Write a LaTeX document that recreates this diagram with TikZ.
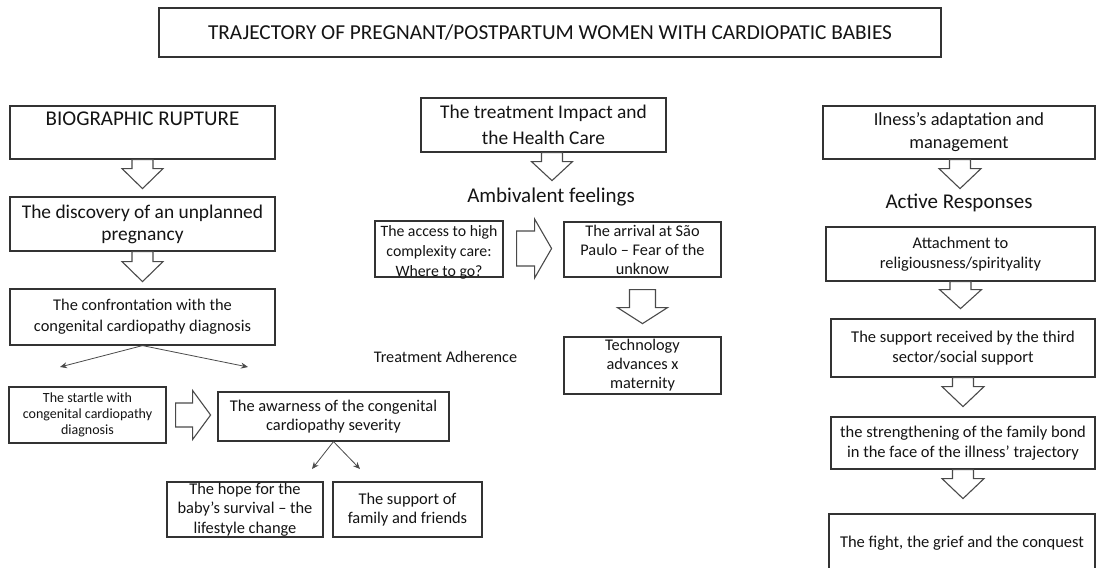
\documentclass[tikz,border=0pt]{standalone}
\usepackage{fontspec}
\setmainfont{Carlito}
\usetikzlibrary{arrows.meta,calc}
\definecolor{ink}{HTML}{141414}
\definecolor{edge}{HTML}{333333}
\definecolor{agray}{HTML}{4A4A4A}
\newcommand{\fs}[2]{\fontsize{#1}{#2}\selectfont}
% block arrow pointing down: start point, stem length, head length, stem half width, head half width
\newcommand{\downblock}[5]{\draw[barrow] (#1) ++(-#4,0) -- ++(0,#2) -- ++(#4-#5,0) -- ++(#5,#3) -- ++(#5,-#3) -- ++(#4-#5,0) -- ++(0,-#2) -- cycle;}
% block arrow pointing right
\newcommand{\rightblock}[5]{\draw[barrow] (#1) ++(0,-#4) -- ++(#2,0) -- ++(0,#4-#5) -- ++(#3,#5) -- ++(-#3,#5) -- ++(0,#4-#5) -- ++(-#2,0) -- cycle;}
\tikzset{
  box/.style={draw=edge, line width=1.2pt, fill=white, inner sep=0pt, align=center, text=ink},
  lbl/.style={inner sep=0pt, align=center, text=ink},
  barrow/.style={draw=agray, line width=1.1pt, fill=white, line join=miter},
  thinarrow/.style={draw=agray, line width=0.8pt, -{Stealth[length=7pt,width=6pt]}}
}
\begin{document}
\begin{tikzpicture}[x=1pt,y=-1pt]
\fill[white] (0,0) rectangle (1096,568);
\useasboundingbox (0,0) rectangle (1096,568);

% title
\node[box, minimum width=782pt, minimum height=49pt, font=\fs{21.3}{25}] (title) at (550,32.5)
  {TRAJECTORY OF PREGNANT/POSTPARTUM WOMEN WITH CARDIOPATIC BABIES};

% left column
\node[box, minimum width=265pt, minimum height=53pt, font=\fs{21}{28}] (bio) at (142.5,132.5)
  {BIOGRAPHIC RUPTURE\\\mbox{}};
\node[box, minimum width=265pt, minimum height=54pt, font=\fs{19.4}{22}] (disc) at (142.5,224)
  {The discovery of an unplanned\\pregnancy};
\node[box, minimum width=265pt, minimum height=56pt, font=\fs{16.4}{21}] (conf) at (142.5,317)
  {The confrontation with the\\congenital cardiopathy diagnosis};
\node[box, minimum width=157pt, minimum height=56pt, font=\fs{14}{16}] (startle) at (87.5,415)
  {The startle with\\congenital cardiopathy\\diagnosis};
\node[box, minimum width=231pt, minimum height=49pt, font=\fs{16.4}{19.5}] (aware) at (333.5,416.5)
  {The awarness of the congenital\\cardiopathy severity};
\node[box, minimum width=156pt, minimum height=55pt, font=\fs{16.4}{19.5}] (hope) at (245,509.5)
  {The hope for the\\baby’s survival – the\\lifestyle change};
\node[box, minimum width=149pt, minimum height=55pt, font=\fs{16.4}{19.5}] (supfam) at (407.5,509.5)
  {The support of\\family and friends};

\downblock{bio.south}{9}{20}{10.5}{20.5}
\downblock{disc.south}{10}{20}{10.5}{20.5}
\coordinate (c1) at (60,367);
\coordinate (c2) at (248,367);
\draw[thinarrow] (conf.south) -- (c1);
\draw[thinarrow] (conf.south) -- (c2);
\rightblock{$(startle.east)+(9,0)$}{17}{18}{12}{24.5}
\coordinate (a1) at (312,469);
\coordinate (a2) at (360,469);
\draw[thinarrow] (aware.south) -- (a1);
\draw[thinarrow] (aware.south) -- (a2);

\node[lbl, font=\fs{16.2}{19}] (adher) at (445.5,357) {Treatment Adherence};

% middle column
\node[box, minimum width=245pt, minimum height=54pt, font=\fs{19.4}{26}] (treat) at (543.5,125)
  {The treatment Impact and\\the Health Care};
\downblock{$(treat.south)+(8.5,0)$}{9}{19}{10.5}{20.5}
\node[lbl, font=\fs{21}{25}] (ambi) at (551,197) {Ambivalent feelings};
\node[box, minimum width=128pt, minimum height=56pt, font=\fs{15.8}{20}] (access) at (439,249)
  {\raisebox{-3pt}[\height][\depth]{\parbox{126pt}{\centering The access to high\\complexity care:\\Where to go?}}};
\node[box, minimum width=157pt, minimum height=55pt, font=\fs{16.3}{19}] (arrival) at (642.5,249.5)
  {The arrival at São\\Paulo – Fear of the\\unknow};
\node[box, minimum width=157pt, minimum height=57pt, font=\fs{16.3}{19}] (tech) at (642.5,365.5)
  {Technology\\advances x\\maternity};
\rightblock{$(access.east)+(13,-0.5)$}{18}{17}{17.5}{29.5}
\downblock{$(arrival.south)+(0,12)$}{18}{16}{13}{25}

% right column
\node[box, minimum width=272pt, minimum height=53pt, font=\fs{18.4}{23}] (ilness) at (959,132.5)
  {Ilness’s adaptation and\\management};
\node[lbl, font=\fs{21}{25}] (active) at (959,203) {Active Responses};
\node[box, minimum width=269pt, minimum height=54pt, font=\fs{16.4}{20}] (attach) at (960.5,254)
  {Attachment to\\religiousness/spirityality};
\node[box, minimum width=264pt, minimum height=58pt, font=\fs{16.5}{20}] (supp) at (963,348)
  {The support received by the third\\sector/social support};
\node[box, minimum width=264pt, minimum height=52pt, font=\fs{16.5}{20}] (strength) at (963,443)
  {the strengthening of the family bond\\in the face of the illness’ trajectory};
\node[box, minimum width=266pt, minimum height=58pt, font=\fs{16.5}{20}] (fight) at (962,543)
  {The fight, the grief and the conquest};

\downblock{$(ilness.south)+(1,0)$}{9}{20}{10.5}{21}
\downblock{attach.south}{8}{19}{10.5}{21}
\downblock{supp.south}{9}{20}{10.5}{21}
\downblock{strength.south}{9}{20}{10.5}{21}
\end{tikzpicture}
\end{document}
